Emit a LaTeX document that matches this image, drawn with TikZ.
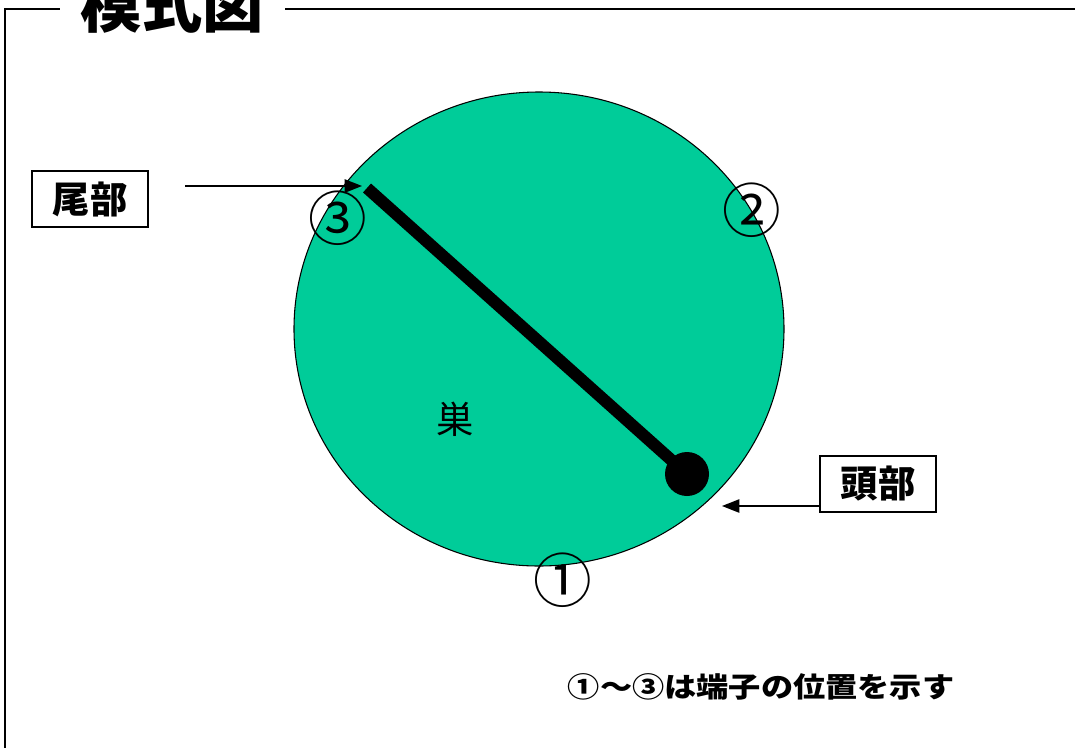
\documentclass[tikz,border=0pt]{standalone}
\usepackage{fontspec}
\newfontfamily\jp{Noto Sans CJK JP}
\usetikzlibrary{arrows.meta}
\definecolor{nest}{HTML}{00CC99}
\tikzset{
  lbl/.style={draw=black, line width=1.2pt, fill=white, inner sep=0pt, minimum width=87pt, minimum height=42pt, font=\jp\bfseries\fontsize{28}{28}\selectfont},
  num/.style={inner sep=0pt, font=\jp\fontsize{44}{44}\selectfont},
  pointer/.style={line width=1.1pt, -{Triangle[length=13pt,width=10pt]}}
}
\begin{document}
\begin{tikzpicture}[x=0.75pt,y=-0.75pt]
\useasboundingbox (0,0) rectangle (1075,747);
% frame
\draw[line width=1.5pt] (5,760) -- (5,9) -- (1080,9);
\node[fill=white, minimum width=168.75pt, minimum height=50pt, inner sep=0pt] (titlebg) at (172,12) {};
\node[inner sep=0pt, font=\jp\bfseries\fontsize{46}{46}\selectfont] (title) at (172,4) {模式図};
% nest
\path[fill=nest, draw=black, line width=0.8pt] (539,329) ellipse [x radius=245, y radius=237];
\node[inner sep=0pt] (c) at (539,329) {};
\coordinate (tail) at (367,188);
\node[circle, fill=black, minimum size=33pt, inner sep=0pt] (head) at (687,474) {};
\draw[line width=9pt] (tail) -- (head.center);
\node[font=\jp\fontsize{28}{28}\selectfont, inner sep=0pt] (su) at (455,419) {巣};
% terminals
\node[num] (n3) at (338,218) {③};
\node[num] (n2) at (752,210) {②};
\node[num] (n1) at (563,580) {①};
% labels
\node[lbl] (bibu) at (90,199) {尾部};
\node[lbl] (tobu) at (878,484) {頭部};
\coordinate (tailtip) at (362,186);
\coordinate (headtip) at (722,506);
\coordinate (tailstart) at (185,186);
\draw[pointer] (tailstart) -- (tailtip);
\draw[pointer] (tobu.west |- headtip) -- (headtip);
% note
\node[inner sep=0pt, font=\jp\bfseries\fontsize{21}{21}\selectfont] (note) at (761,687) {\scalebox{1.15}[1]{①～③は端子の位置を示す}};
\end{tikzpicture}
\end{document}
